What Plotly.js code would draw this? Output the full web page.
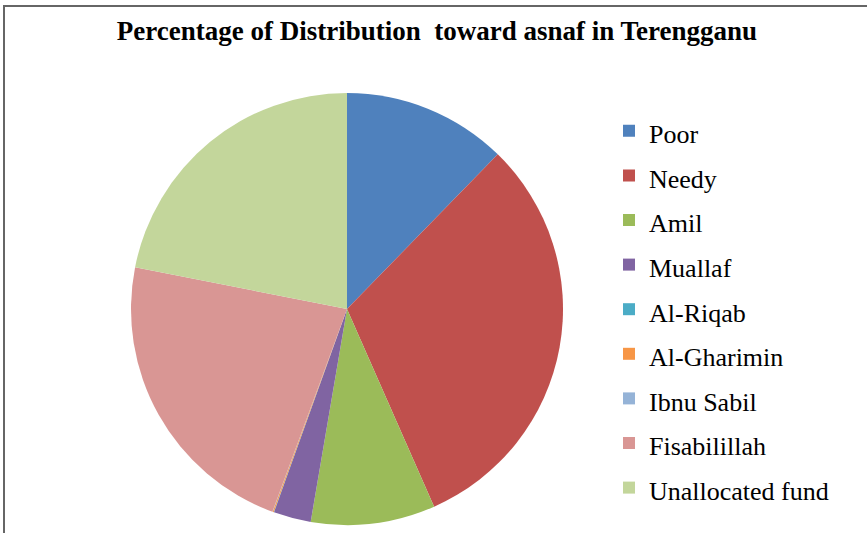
<!DOCTYPE html>
<html><head><meta charset="utf-8">
<script src="https://cdn.plot.ly/plotly-3.0.1.min.js"></script>
<style>
html,body{margin:0;padding:0;background:#fff;}
#frame{position:absolute;left:3px;top:5px;width:864px;height:528px;border-top:2px solid #666;border-left:2px solid #666;}
#chart{position:absolute;left:0;top:0;width:867px;height:533px;}
#chart .legendtext{font-family:"Liberation Serif","Tinos","Times New Roman","DejaVu Serif","Noto Serif",serif !important;font-size:26px !important;font-weight:400 !important;}
</style></head>
<body>
<div id="chart"></div>
<div id="frame"></div>
<script>
const categories = ["Poor","Needy","Amil","Muallaf","Al-Riqab","Al-Gharimin","Ibnu Sabil","Fisabilillah","Unallocated fund"];
const percentages = [12.3, 31.1, 9.3, 2.8, 0.02, 0.08, 0.02, 22.5, 21.9];
const colors = ["#4F81BD","#C0504D","#9BBB59","#8064A2","#4BACC6","#F79646","#95B3D7","#D99694","#C3D69B"];
const chartTitle = "Percentage of Distribution  toward asnaf in Terengganu";

const W = 867, H = 533;
const cx = 347, cy = 309, r = 216;
const serif = "Liberation Serif";

const trace = {
  type: "pie",
  labels: categories,
  values: percentages,
  sort: false,
  direction: "clockwise",
  rotation: 0,
  textinfo: "none",
  hoverinfo: "label+percent",
  marker: {colors: colors, line: {width: 0}},
  domain: {x: [(cx - r) / W, (cx + r) / W], y: [(H - cy - r) / H, (H - cy + r) / H]}
};

const layout = {
  width: W, height: H,
  margin: {l: 0, r: 0, t: 0, b: 0, autoexpand: false},
  paper_bgcolor: "#fff",
  font: {family: serif},
  title: {
    text: "<b>" + chartTitle + "</b>",
    font: {family: serif, size: 27, color: "#000"},
    x: 437 / W, xanchor: "center", y: 1 - 31 / H, yanchor: "middle"
  },
  showlegend: true,
  legend: {
    x: 609 / W, xanchor: "left", y: 1 - 309.5 / H, yanchor: "middle",
    font: {family: serif, size: 32, color: "#000"},
    bgcolor: "rgba(0,0,0,0)", traceorder: "normal"
  }
};

Plotly.newPlot("chart", [trace], layout, {displayModeBar: false, staticPlot: true});
</script>
</body></html>
